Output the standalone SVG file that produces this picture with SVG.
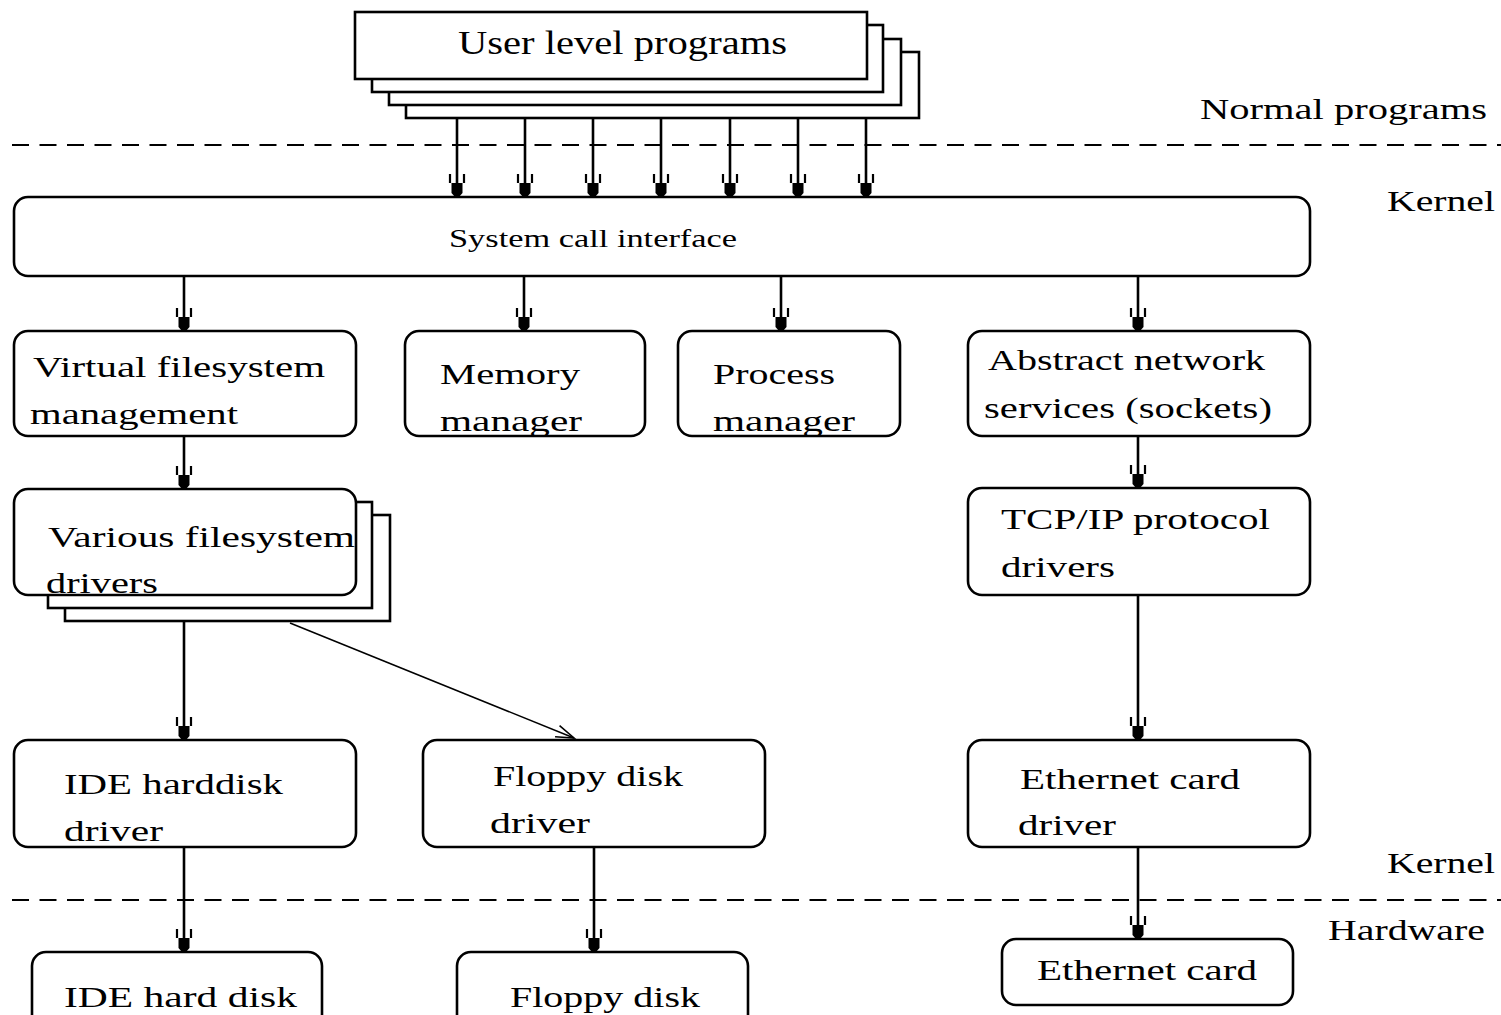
<svg xmlns="http://www.w3.org/2000/svg" width="1501" height="1015" viewBox="0 0 1501 1015">
<style>
.box{fill:#fff;stroke:#000;stroke-width:2.6}
.t{font-family:"Liberation Serif","Times New Roman",serif;font-size:30px;fill:#000}
.big{font-size:33px}
.sm{font-size:25px}
.ln{stroke:#000;stroke-width:2.6;fill:none}
.thin{stroke:#000;stroke-width:1.5;fill:none}
.dash{stroke:#000;stroke-width:2;stroke-dasharray:17 10.5;fill:none}
</style>
<defs>
<marker id="ah" markerUnits="userSpaceOnUse" markerWidth="30" markerHeight="24" viewBox="-27 -12 30 24" refX="0" refY="0" orient="auto">
<path d="M-23,-7 L-14,-7 M-23,7 L-14,7" stroke="#000" stroke-width="2.2" fill="none"/>
<polygon points="-14,-5.5 -14,5.5 -4,5.5 0,2 0,-2 -4,-5.5" fill="#000"/>
</marker>
<marker id="oa" markerUnits="userSpaceOnUse" markerWidth="30" markerHeight="30" viewBox="-26 -12 30 24" refX="0" refY="0" orient="auto">
<path d="M-18,-6 L0,0 L-18,6" stroke="#000" stroke-width="1.6" fill="none"/>
</marker>
</defs>

<g id="separators">
<line class="dash" x1="12" y1="145" x2="1501" y2="145"/>
<line class="dash" x1="12" y1="900" x2="1501" y2="900"/>
</g>

<g id="layer-labels">
<text class="t" x="1200" y="119" textLength="287" lengthAdjust="spacingAndGlyphs">Normal programs</text>
<text class="t" x="1387" y="211" textLength="108" lengthAdjust="spacingAndGlyphs">Kernel</text>
<text class="t" x="1387" y="873" textLength="108" lengthAdjust="spacingAndGlyphs">Kernel</text>
<text class="t" x="1328" y="940" textLength="157" lengthAdjust="spacingAndGlyphs">Hardware</text>
</g>

<g id="connectors">
<line class="ln" x1="457" y1="118" x2="457" y2="197" marker-end="url(#ah)"/>
<line class="ln" x1="525" y1="118" x2="525" y2="197" marker-end="url(#ah)"/>
<line class="ln" x1="593" y1="118" x2="593" y2="197" marker-end="url(#ah)"/>
<line class="ln" x1="661" y1="118" x2="661" y2="197" marker-end="url(#ah)"/>
<line class="ln" x1="730" y1="118" x2="730" y2="197" marker-end="url(#ah)"/>
<line class="ln" x1="798" y1="118" x2="798" y2="197" marker-end="url(#ah)"/>
<line class="ln" x1="866" y1="118" x2="866" y2="197" marker-end="url(#ah)"/>
<line class="ln" x1="184" y1="265" x2="184" y2="331" marker-end="url(#ah)"/>
<line class="ln" x1="524" y1="265" x2="524" y2="331" marker-end="url(#ah)"/>
<line class="ln" x1="781" y1="265" x2="781" y2="331" marker-end="url(#ah)"/>
<line class="ln" x1="1138" y1="265" x2="1138" y2="331" marker-end="url(#ah)"/>
<line class="ln" x1="184" y1="436" x2="184" y2="489" marker-end="url(#ah)"/>
<line class="ln" x1="1138" y1="436" x2="1138" y2="488" marker-end="url(#ah)"/>
<line class="ln" x1="184" y1="621" x2="184" y2="740" marker-end="url(#ah)"/>
<line class="ln" x1="1138" y1="595" x2="1138" y2="740" marker-end="url(#ah)"/>
<line class="thin" x1="290" y1="623" x2="574" y2="738" marker-end="url(#oa)"/>
<line class="ln" x1="184" y1="847" x2="184" y2="952" marker-end="url(#ah)"/>
<line class="ln" x1="594" y1="847" x2="594" y2="952" marker-end="url(#ah)"/>
<line class="ln" x1="1138" y1="847" x2="1138" y2="939" marker-end="url(#ah)"/>
</g>

<g id="user-programs">
<rect class="box" x="406" y="52" width="513" height="66"/>
<rect class="box" x="389" y="39" width="512" height="66"/>
<rect class="box" x="372" y="25" width="511" height="67"/>
<rect class="box" x="355" y="12" width="512" height="67"/>
<text class="t big" x="458" y="54" textLength="329" lengthAdjust="spacingAndGlyphs">User level programs</text>
</g>

<g id="syscall">
<rect class="box" x="14" y="197" width="1296" height="79" rx="14"/>
<text class="t sm" x="449" y="247" textLength="288" lengthAdjust="spacingAndGlyphs">System call interface</text>
</g>

<g id="vfs">
<rect class="box" x="14" y="331" width="342" height="105" rx="14"/>
<text class="t" x="33" y="377" textLength="292" lengthAdjust="spacingAndGlyphs">Virtual filesystem</text>
<text class="t" x="30" y="424" textLength="208" lengthAdjust="spacingAndGlyphs">management</text>
</g>

<g id="memory">
<rect class="box" x="405" y="331" width="240" height="105" rx="14"/>
<text class="t" x="440" y="384" textLength="140" lengthAdjust="spacingAndGlyphs">Memory</text>
<text class="t" x="440" y="431" textLength="142" lengthAdjust="spacingAndGlyphs">manager</text>
</g>

<g id="process">
<rect class="box" x="678" y="331" width="222" height="105" rx="14"/>
<text class="t" x="713" y="384" textLength="122" lengthAdjust="spacingAndGlyphs">Process</text>
<text class="t" x="713" y="431" textLength="142" lengthAdjust="spacingAndGlyphs">manager</text>
</g>

<g id="network">
<rect class="box" x="968" y="331" width="342" height="105" rx="14"/>
<text class="t" x="988" y="370" textLength="277" lengthAdjust="spacingAndGlyphs">Abstract network</text>
<text class="t" x="984" y="418" textLength="288" lengthAdjust="spacingAndGlyphs">services (sockets)</text>
</g>

<g id="fs-drivers">
<rect class="box" x="65" y="515" width="325" height="106"/>
<rect class="box" x="48" y="502" width="324" height="106"/>
<rect class="box" x="14" y="489" width="342" height="106" rx="14"/>
<text class="t" x="48" y="547" textLength="307" lengthAdjust="spacingAndGlyphs">Various filesystem</text>
<text class="t" x="46" y="593" textLength="112" lengthAdjust="spacingAndGlyphs">drivers</text>
</g>

<g id="tcpip">
<rect class="box" x="968" y="488" width="342" height="107" rx="14"/>
<text class="t" x="1001" y="529" textLength="269" lengthAdjust="spacingAndGlyphs">TCP/IP protocol</text>
<text class="t" x="1001" y="577" textLength="114" lengthAdjust="spacingAndGlyphs">drivers</text>
</g>

<g id="ide-driver">
<rect class="box" x="14" y="740" width="342" height="107" rx="14"/>
<text class="t" x="64" y="794" textLength="219" lengthAdjust="spacingAndGlyphs">IDE harddisk</text>
<text class="t" x="64" y="841" textLength="99" lengthAdjust="spacingAndGlyphs">driver</text>
</g>

<g id="floppy-driver">
<rect class="box" x="423" y="740" width="342" height="107" rx="14"/>
<text class="t" x="493" y="786" textLength="190" lengthAdjust="spacingAndGlyphs">Floppy disk</text>
<text class="t" x="490" y="833" textLength="100" lengthAdjust="spacingAndGlyphs">driver</text>
</g>

<g id="ethernet-driver">
<rect class="box" x="968" y="740" width="342" height="107" rx="14"/>
<text class="t" x="1020" y="789" textLength="220" lengthAdjust="spacingAndGlyphs">Ethernet card</text>
<text class="t" x="1018" y="835" textLength="98" lengthAdjust="spacingAndGlyphs">driver</text>
</g>

<g id="ide-disk">
<rect class="box" x="32" y="952" width="290" height="100" rx="14"/>
<text class="t" x="64" y="1007" textLength="233" lengthAdjust="spacingAndGlyphs">IDE hard disk</text>
</g>

<g id="floppy-disk">
<rect class="box" x="457" y="952" width="291" height="100" rx="14"/>
<text class="t" x="510" y="1007" textLength="190" lengthAdjust="spacingAndGlyphs">Floppy disk</text>
</g>

<g id="ethernet-card">
<rect class="box" x="1002" y="939" width="291" height="66" rx="14"/>
<text class="t" x="1037" y="980" textLength="220" lengthAdjust="spacingAndGlyphs">Ethernet card</text>
</g>
</svg>
